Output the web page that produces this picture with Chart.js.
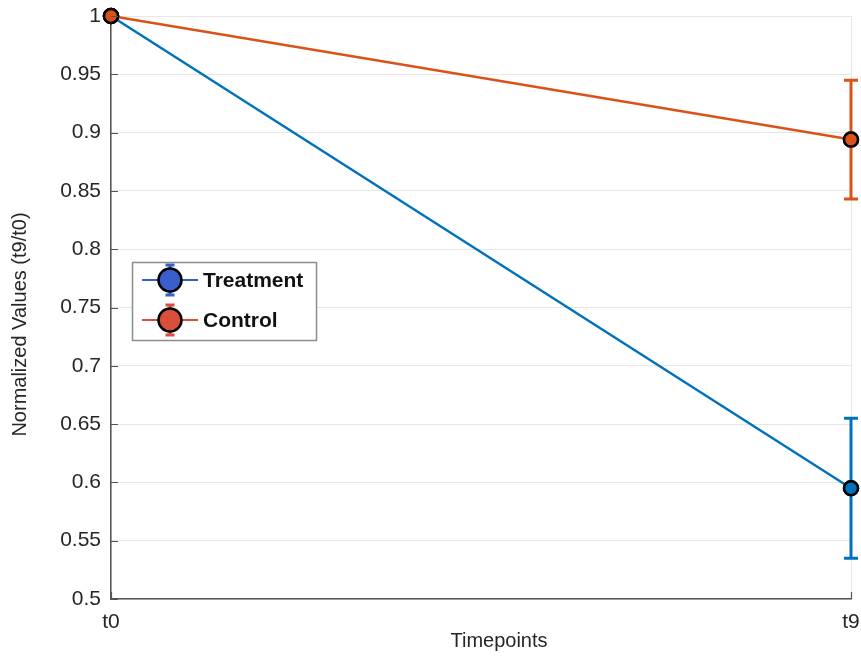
<!DOCTYPE html>
<html>
<head>
<meta charset="utf-8">
<script src="https://cdn.jsdelivr.net/npm/chart.js@4.4.1/dist/chart.umd.min.js"></script>
<style>
  html, body { margin: 0; padding: 0; background: #fff; }
  #wrap { width: 861px; height: 656px; }
</style>
</head>
<body>
<div id="wrap"><canvas id="c" width="861" height="656"></canvas></div>
<script>
// Timepoints and normalized means (t9/t0) with their error half-widths
const timepoints = ['t0', 't9'];
const treatment = [1.0, 0.595];
const treatmentErr = [0, 0.060];
const control = [1.0, 0.894];
const controlErr = [0, 0.051];
const yTicks = [0.5, 0.55, 0.6, 0.65, 0.7, 0.75, 0.8, 0.85, 0.9, 0.95, 1];
const xTitle = 'Timepoints';
const yTitle = 'Normalized Values (t9/t0)';

const BLUE = '#0072BD';
const ORANGE = '#D95319';
const fontFamily = '"Liberation Sans", Arial, sans-serif';

// Vertical error bars with caps, drawn through the scales
const errorBars = {
  id: 'errorBars',
  afterDatasetsDraw(chart) {
    const ctx = chart.ctx;
    const x = chart.scales.x, y = chart.scales.y;
    chart.data.datasets.forEach((ds, di) => {
      const meta = chart.getDatasetMeta(di);
      ds.errors.forEach((e, i) => {
        if (!e) return;
        const px = x.getPixelForValue(i);
        const top = y.getPixelForValue(ds.data[i] + e);
        const bot = y.getPixelForValue(ds.data[i] - e);
        ctx.save();
        ctx.strokeStyle = ds.borderColor;
        ctx.lineWidth = 3;
        ctx.beginPath();
        ctx.moveTo(px, top); ctx.lineTo(px, bot);
        ctx.moveTo(px - 7, top); ctx.lineTo(px + 7, top);
        ctx.moveTo(px - 7, bot); ctx.lineTo(px + 7, bot);
        ctx.stroke();
        ctx.restore();
      });
      // redraw points over the bars
      meta.data.forEach(pt => pt.draw(ctx, chart.chartArea));
    });
  }
};

// Short inward tick marks on the left and bottom axes, plus axis titles
const axisDecor = {
  id: 'axisDecor',
  afterDraw(chart) {
    const ctx = chart.ctx;
    const x = chart.scales.x, y = chart.scales.y;
    const a = chart.chartArea;
    ctx.save();
    ctx.strokeStyle = '#555';
    ctx.lineWidth = 1.2;
    ctx.beginPath();
    yTicks.forEach(v => {
      const py = Math.round(y.getPixelForValue(v)) + 0.5;
      ctx.moveTo(a.left, py); ctx.lineTo(a.left + 7, py);
    });
    timepoints.forEach((t, i) => {
      const px = Math.round(x.getPixelForValue(i)) + 0.5;
      ctx.moveTo(px, a.bottom); ctx.lineTo(px, a.bottom - 7);
    });
    ctx.stroke();

    ctx.fillStyle = '#262626';
    ctx.font = '20px ' + fontFamily;
    ctx.textAlign = 'center';
    ctx.textBaseline = 'middle';
    ctx.fillText(xTitle, (a.left + a.right) / 2 + 18, 641);
    ctx.translate(20, (a.top + a.bottom) / 2 + 17);
    ctx.rotate(-Math.PI / 2);
    ctx.fillText(yTitle, 0, 0);
    ctx.restore();
  }
};

// Boxed legend inside the plot area
const boxLegend = {
  id: 'boxLegend',
  afterDraw(chart) {
    const ctx = chart.ctx;
    const bx = 132.5, by = 262.5, bw = 184, bh = 78;
    ctx.save();
    ctx.fillStyle = '#fff';
    ctx.fillRect(bx, by, bw, bh);
    ctx.strokeStyle = '#8c8c8c';
    ctx.lineWidth = 1.5;
    ctx.strokeRect(bx, by, bw, bh);
    const items = [
      { label: 'Treatment', line: '#3560C8', fill: '#3A5FCD', y: 280 },
      { label: 'Control', line: '#D8503A', fill: '#D8503A', y: 320 }
    ];
    items.forEach(it => {
      const cx = 170;
      ctx.strokeStyle = it.line;
      ctx.lineWidth = 2;
      ctx.beginPath();
      ctx.moveTo(142, it.y); ctx.lineTo(198, it.y);
      ctx.stroke();
      ctx.lineWidth = 3;
      ctx.beginPath();
      ctx.moveTo(cx, it.y - 15); ctx.lineTo(cx, it.y + 15);
      ctx.moveTo(cx - 4.5, it.y - 15); ctx.lineTo(cx + 4.5, it.y - 15);
      ctx.moveTo(cx - 4.5, it.y + 15); ctx.lineTo(cx + 4.5, it.y + 15);
      ctx.stroke();
      ctx.beginPath();
      ctx.arc(cx, it.y, 11.5, 0, Math.PI * 2);
      ctx.fillStyle = it.fill;
      ctx.fill();
      ctx.lineWidth = 2.5;
      ctx.strokeStyle = '#000';
      ctx.stroke();
      ctx.fillStyle = '#111';
      ctx.font = 'bold 21px ' + fontFamily;
      ctx.textBaseline = 'middle';
      ctx.textAlign = 'left';
      ctx.fillText(it.label, 203, it.y + 1);
    });
    ctx.restore();
  }
};

function noEdgePadding(s) {
  s.paddingTop = 0; s.paddingBottom = 0; s.paddingLeft = 0; s.paddingRight = 0;
}

new Chart(document.getElementById('c'), {
  type: 'line',
  data: {
    labels: timepoints,
    datasets: [
      {
        label: 'Treatment',
        data: treatment,
        errors: treatmentErr,
        borderColor: BLUE,
        backgroundColor: BLUE,
        borderWidth: 2.5,
        pointRadius: 7,
        pointBorderWidth: 2.5,
        pointBorderColor: '#000',
        pointBackgroundColor: BLUE,
        tension: 0
      },
      {
        label: 'Control',
        data: control,
        errors: controlErr,
        borderColor: ORANGE,
        backgroundColor: ORANGE,
        borderWidth: 2.5,
        pointRadius: 7,
        pointBorderWidth: 2.5,
        pointBorderColor: '#000',
        pointBackgroundColor: ORANGE,
        tension: 0
      }
    ]
  },
  options: {
    responsive: false,
    animation: false,
    clip: false,
    layout: { padding: { top: 16, right: 10, left: 0, bottom: 0 } },
    plugins: {
      legend: { display: false },
      tooltip: { enabled: false }
    },
    scales: {
      x: {
        type: 'category',
        offset: false,
        grid: { color: '#e6e6e6', lineWidth: 1, drawTicks: false },
        border: { color: '#555', width: 1.5 },
        ticks: {
          color: '#262626',
          font: { family: fontFamily, size: 21 },
          padding: 11,
          maxRotation: 0,
          autoSkip: false
        },
        afterFit(s) { s.height = 57; noEdgePadding(s); }
      },
      y: {
        min: 0.5,
        max: 1,
        afterBuildTicks(s) { s.ticks = yTicks.map(v => ({ value: v })); },
        grid: { color: '#e6e6e6', lineWidth: 1, drawTicks: false },
        border: { color: '#555', width: 1.5 },
        ticks: {
          color: '#262626',
          font: { family: fontFamily, size: 21 },
          padding: 10,
          callback: v => String(Number(v.toFixed(2)))
        },
        afterFit(s) { s.width = 111; noEdgePadding(s); }
      }
    }
  },
  plugins: [errorBars, axisDecor, boxLegend]
});
</script>
</body>
</html>
